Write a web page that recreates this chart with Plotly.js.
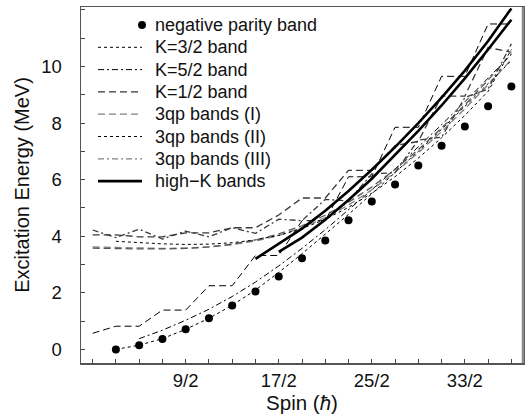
<!DOCTYPE html>
<html>
<head>
<meta charset="utf-8">
<script src="https://cdn.plot.ly/plotly-3.0.1.min.js"></script>
<style>html,body{margin:0;padding:0;background:#fff;}#chart{width:528px;height:417px;}</style>
</head>
<body>
<div id="chart"></div>
<script>
// ---- data (spin in units of hbar, energy in MeV) ----
const spinAll = [0.5,1.5,2.5,3.5,4.5,5.5,6.5,7.5,8.5,9.5,10.5,11.5,12.5,13.5,14.5,15.5,16.5,17.5,18.5];
const spinFrom1 = spinAll.slice(1);
const spinFrom2 = spinAll.slice(2);
const spinFrom7 = spinAll.slice(7);
const spinFrom8 = spinAll.slice(8);

const negParity = [0, 0.15, 0.37, 0.71, 1.1, 1.55, 2.05, 2.58, 3.22, 3.85, 4.56, 5.23, 5.83, 6.5, 7.2, 7.88, 8.59, 9.29];
const kThreeHalf = [0, 0.15, 0.38, 0.71, 1.1, 1.56, 2.1, 2.72, 3.38, 4.06, 4.77, 5.5, 6.24, 7.0, 7.78, 8.58, 9.4, 10.2];
const kFiveHalf = [0.38, 0.68, 1.03, 1.42, 1.87, 2.38, 2.95, 3.57, 4.23, 4.92, 5.64, 6.38, 7.15, 7.94, 8.75, 9.58, 10.42];
const kOneHalf = [0.57, 0.82, 0.82, 1.39, 1.39, 2.25, 2.25, 3.32, 3.32, 4.55, 4.55, 6.1, 6.1, 7.85, 7.85, 9.65, 9.65, 11.5, 11.5];
const qp3_I_a = [3.62, 3.6, 3.58, 3.57, 3.58, 3.62, 3.7, 3.83, 4.02, 4.3, 4.66, 5.1, 5.64, 6.26, 6.95, 7.7, 8.5, 9.35, 10.25];
const qp3_I_b = [3.58, 3.56, 3.55, 3.55, 3.57, 3.62, 3.72, 3.87, 4.08, 4.37, 4.74, 5.2, 5.74, 6.36, 7.06, 7.82, 8.64, 9.52, 10.45];
const qp3_I_c = [4.05, 4.05, 3.98, 3.98, 4.12, 4.12, 4.3, 4.3, 4.75, 5.35, 5.35, 6.33, 6.33, 7.2, 7.35, 8.95, 8.95, 10.67, 10.5];
const qp3_II = [3.82, 3.77, 3.73, 3.71, 3.72, 3.77, 3.87, 4.03, 4.27, 4.6, 5.02, 5.52, 6.1, 6.76, 7.48, 8.27, 9.12, 10.6];
const qp3_III = [4.22, 3.95, 4.25, 3.9, 4.18, 3.98, 4.3, 4.1, 4.6, 4.55, 5.3, 5.25, 6.2, 6.25, 7.4, 7.5, 8.9, 9.2, 10.8];
const highK_a = [3.2, 3.72, 4.27, 4.9, 5.6, 6.35, 7.15, 8.0, 8.9, 9.85, 10.9, 12.05];
const highK_b = [3.45, 3.95, 4.58, 5.28, 6.03, 6.86, 7.72, 8.62, 9.58, 10.6, 11.65];

const xTickVals = spinAll;
const xTickText = ['', '', '', '', '9/2', '', '', '', '17/2', '', '', '', '25/2', '', '', '', '33/2', '', ''];
const yTickVals = [0,1,2,3,4,5,6,7,8,9,10,11,12];
const yTickText = ['0','','2','','4','','6','','8','','10','',''];

const legendNames = ['negative parity band', 'K=3/2 band', 'K=5/2 band', 'K=1/2 band',
  '3qp bands (I)', '3qp bands (II)', '3qp bands (III)', 'high\u2212K bands'];

const FONT = 'Liberation Sans, Arial, Helvetica, sans-serif';
const BLACK = '#000';
const GRAY = '#808080';
const DARKGRAY = '#3a3a3a';
const DASHDOT = '6px,3px,2px,3px';
const LONGDASH = '7px,4px';

const styles = [
  null,
  {color: BLACK, dash: 'dot', width: 1},
  {color: BLACK, dash: DASHDOT, width: 1},
  {color: BLACK, dash: LONGDASH, width: 1},
  {color: GRAY, dash: LONGDASH, width: 1.3},
  {color: BLACK, dash: 'dot', width: 1},
  {color: GRAY, dash: DASHDOT, width: 1.3},
  {color: BLACK, dash: 'solid', width: 2.6}
];

function line(x, y, st, colorOverride) {
  return {x: x, y: y, type: 'scatter', mode: 'lines', showlegend: false,
    line: {color: colorOverride || st.color, dash: st.dash, width: st.width}};
}

const traces = [
  {x: spinFrom1, y: negParity, type: 'scatter', mode: 'markers', showlegend: false,
   marker: {color: BLACK, size: 8}},
  line(spinFrom1, kThreeHalf, styles[1]),
  line(spinFrom2, kFiveHalf, styles[2]),
  line(spinAll, kOneHalf, styles[3]),
  line(spinAll, qp3_I_a, styles[4]),
  line(spinAll, qp3_I_b, styles[4], '#555'),
  line(spinAll, qp3_I_c, styles[4], DARKGRAY),
  line(spinFrom1, qp3_II, styles[5]),
  line(spinAll, qp3_III, styles[6], DARKGRAY),
  line(spinFrom7, highK_a, styles[7]),
  line(spinFrom8, highK_b, styles[7])
];

// ---- legend drawn in paper space (pixel layout of the key box) ----
const PL = 81, PW = 442, PB = 363, PH = 356;
const px = v => (v - PL) / PW;
const py = v => (PB - v) / PH;
const annotations = [];
const shapes = [];
legendNames.forEach((nm, i) => {
  const rowY = 25 + 22.3 * i;
  annotations.push({xref: 'paper', yref: 'paper', x: px(153), y: py(rowY), xanchor: 'left', yanchor: 'middle',
    text: nm, showarrow: false, font: {family: FONT, size: 18, color: '#111'}});
  if (i === 0) {
    shapes.push({type: 'circle', xref: 'paper', yref: 'paper', x0: px(138), x1: px(146),
      y0: py(rowY + 4), y1: py(rowY - 4), fillcolor: BLACK, line: {width: 0}});
  } else {
    const st = styles[i];
    shapes.push({type: 'line', xref: 'paper', yref: 'paper', x0: px(98), x1: px(142),
      y0: py(rowY), y1: py(rowY), line: {color: st.color, dash: st.dash, width: st.width}});
  }
});
// lighter right border of the frame, as in the reference
shapes.push({type: 'line', xref: 'paper', yref: 'paper', x0: 1, x1: 1, y0: 0, y1: 1,
  line: {color: '#8a8a8a', width: 2.5}, layer: 'above'});

const layout = {
  width: 528, height: 417,
  margin: {l: 81, r: 5, t: 7, b: 54},
  paper_bgcolor: '#fff', plot_bgcolor: '#fff',
  font: {family: FONT, color: '#111', size: 18},
  showlegend: false,
  annotations: annotations,
  shapes: shapes,
  xaxis: {range: [0, 19], showgrid: false, zeroline: false,
    tickmode: 'array', tickvals: xTickVals, ticktext: xTickText,
    ticks: 'inside', ticklen: 4, tickcolor: '#444', tickwidth: 1,
    showline: true, linecolor: '#555', linewidth: 1.5, mirror: true,
    tickfont: {family: FONT, size: 18.5, color: '#111'},
    title: {text: 'Spin (<i>\u0127</i>)', font: {family: FONT, size: 20.5, color: '#111'}, standoff: 4}},
  yaxis: {range: [-0.48, 12.1], showgrid: false, zeroline: false,
    tickmode: 'array', tickvals: yTickVals, ticktext: yTickText,
    ticks: 'inside', ticklen: 4, tickcolor: '#444', tickwidth: 1,
    showline: true, linecolor: '#555', linewidth: 1.5, mirror: true,
    ticklabelstandoff: 14,
    tickfont: {family: FONT, size: 18.5, color: '#111'},
    title: {text: 'Excitation Energy (MeV)', font: {family: FONT, size: 20, color: '#111'}, standoff: 6}}
};

Plotly.newPlot('chart', traces, layout, {staticPlot: true, displayModeBar: false});
</script>
</body>
</html>
